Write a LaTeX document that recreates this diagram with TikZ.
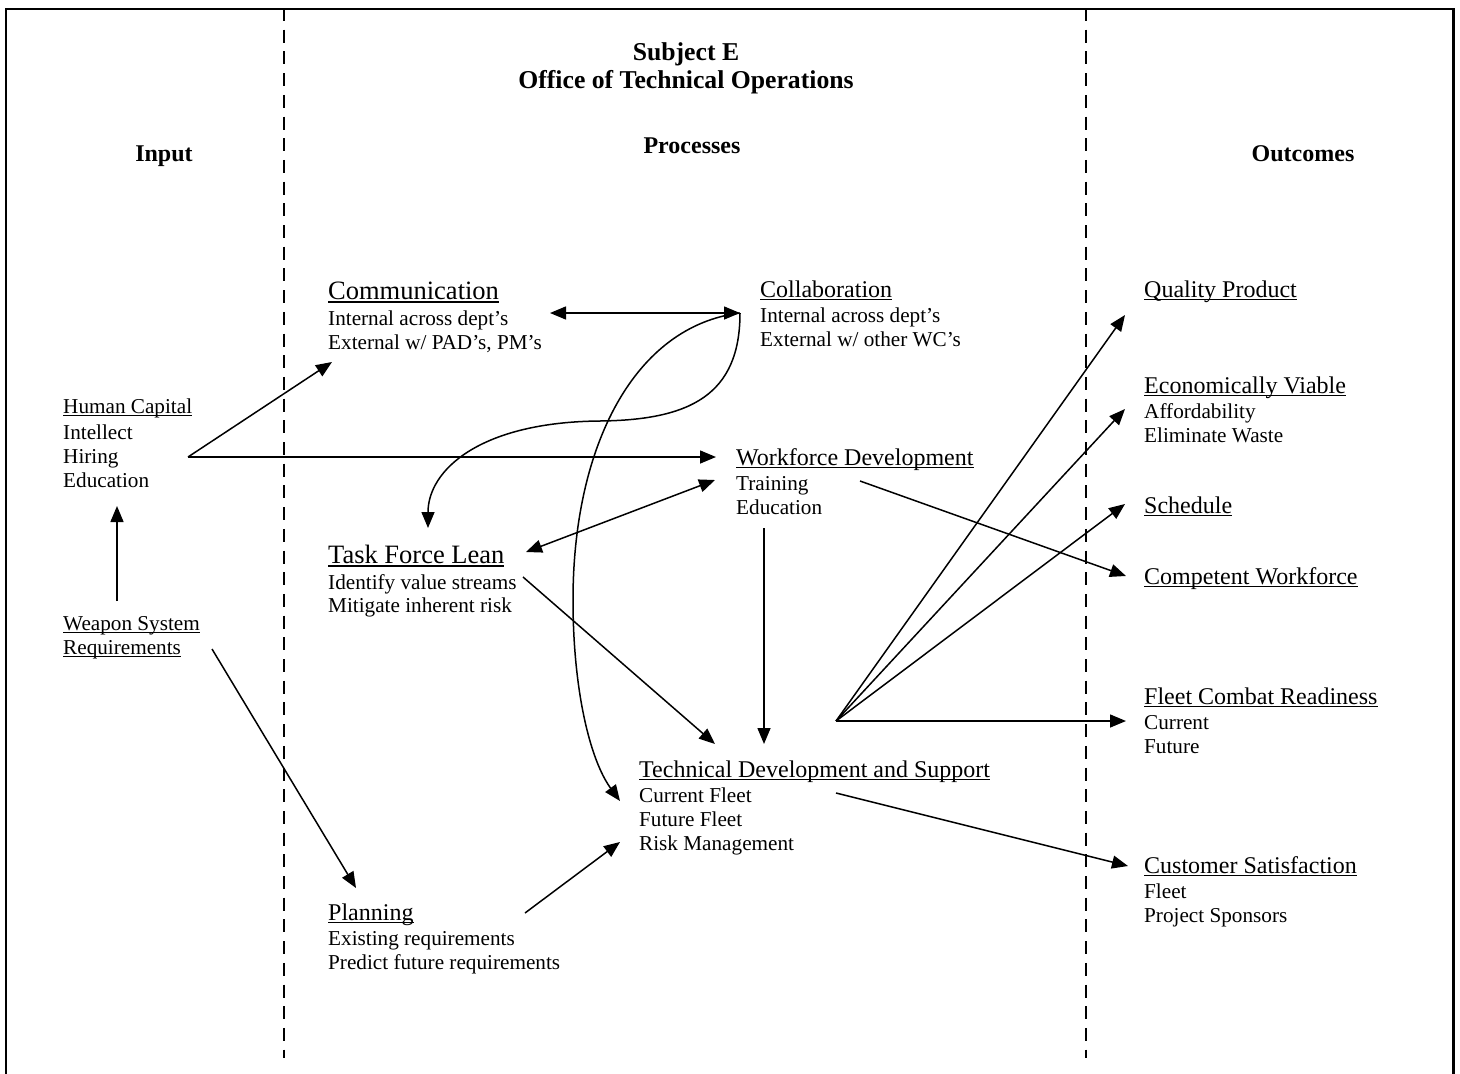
\documentclass[tikz,border=0pt]{standalone}
\usepackage{fontspec}
\setmainfont{Liberation Serif}
\usetikzlibrary{arrows.meta}
\newcommand\myul[1]{\setbox0\hbox{#1}\rlap{\rule[-0.14em]{\wd0}{0.065em}}\box0}
\tikzset{
  txt/.style={anchor=base west, inner sep=0pt, font=\fontsize{21.2pt}{24pt}\selectfont},
  headtxt/.style={txt, font=\fontsize{24pt}{28pt}\selectfont},
  bigtxt/.style={txt, font=\fontsize{26.5pt}{30pt}\selectfont},
  coltitle/.style={anchor=base, inner sep=0pt, font=\bfseries\fontsize{24pt}{28pt}\selectfont},
  maintitle/.style={anchor=base, inner sep=0pt, font=\bfseries\fontsize{25.7pt}{30pt}\selectfont},
  arr/.style={line width=1.5pt, -{Triangle[length=16pt,width=13pt]}},
  darr/.style={line width=1.5pt, {Triangle[length=16pt,width=13pt]}-{Triangle[length=16pt,width=13pt]}},
  frame/.style={line width=2.4pt},
  divider/.style={line width=2pt, dash pattern=on 13pt off 8.7pt}
}
\begin{document}
\begin{tikzpicture}[x=1pt,y=-1pt]
\useasboundingbox (0,0) rectangle (1460,1074);
% frame
\draw[frame] (6,1074) -- (6,9) -- (1453.5,9) -- (1453.5,1074);
% dividers
\draw[divider] (284,8) -- (284,1058);
\draw[divider] (1086,8) -- (1086,1058);

% titles
\node[maintitle] (subj) at (686,60) {Subject E};
\node[maintitle] (office) at (686,88) {Office of Technical Operations};
\node[coltitle] (input) at (164,161) {Input};
\node[coltitle] (proc) at (692,153) {Processes};
\node[coltitle] (outc) at (1303,161) {Outcomes};

% input column
\node[txt] (hc) at (63,413) {\myul{Human Capital}};
\node[txt] (hc1) at (63,439) {Intellect};
\node[txt] (hc2) at (63,463) {Hiring};
\node[txt] (hc3) at (63,487) {Education};
\node[txt] (ws) at (63,630) {\myul{Weapon System}};
\node[txt] (ws1) at (63,654) {\myul{Requirements}};

% processes
\node[bigtxt] (comm) at (328,299) {\myul{Communication}};
\node[txt] (comm1) at (328,325) {Internal across dept's};
\node[txt] (comm2) at (328,349) {External w/ PAD's, PM's};
\node[headtxt] (coll) at (760,297) {\myul{Collaboration}};
\node[txt] (coll1) at (760,322) {Internal across dept's};
\node[txt] (coll2) at (760,346) {External w/ other WC's};
\node[headtxt] (wf) at (736,465) {\myul{Workforce Development}};
\node[txt] (wf1) at (736,490) {Training};
\node[txt] (wf2) at (736,514) {Education};
\node[bigtxt] (tfl) at (328,563) {\myul{Task Force Lean}};
\node[txt] (tfl1) at (328,589) {Identify value streams};
\node[txt] (tfl2) at (328,612) {Mitigate inherent risk};
\node[headtxt] (td) at (639,777) {\myul{Technical Development and Support}};
\node[txt] (td1) at (639,802) {Current Fleet};
\node[txt] (td2) at (639,826) {Future Fleet};
\node[txt] (td3) at (639,850) {Risk Management};
\node[headtxt] (pl) at (328,920) {\myul{Planning}};
\node[txt] (pl1) at (328,945) {Existing requirements};
\node[txt] (pl2) at (328,969) {Predict future requirements};

% outcomes
\node[headtxt] (qp) at (1144,297) {\myul{Quality Product}};
\node[headtxt] (ev) at (1144,393) {\myul{Economically Viable}};
\node[txt] (ev1) at (1144,418) {Affordability};
\node[txt] (ev2) at (1144,442) {Eliminate Waste};
\node[headtxt] (sch) at (1144,513) {\myul{Schedule}};
\node[headtxt] (cw) at (1144,584) {\myul{Competent Workforce}};
\node[headtxt] (fcr) at (1144,704) {\myul{Fleet Combat Readiness}};
\node[txt] (fcr1) at (1144,729) {Current};
\node[txt] (fcr2) at (1144,753) {Future};
\node[headtxt] (cs) at (1144,873) {\myul{Customer Satisfaction}};
\node[txt] (cs1) at (1144,898) {Fleet};
\node[txt] (cs2) at (1144,922) {Project Sponsors};

% connector end points
\coordinate (hcR) at (188,457);
\coordinate (commIn) at (332,362);
\coordinate (wfIn) at (716,457);
\coordinate (wsTop) at (117,601);
\coordinate (hcBot) at (117,506);
\coordinate (commR) at (550,313);
\coordinate (collL) at (740,313);
\coordinate (tflTip) at (428,528);
\coordinate (tdCurve) at (620,801);
\coordinate (tflR) at (526,552);
\coordinate (wfL) at (715,480);
\coordinate (tflOut) at (523,577);
\coordinate (tdIn1) at (715,744);
\coordinate (wfBot) at (764,528);
\coordinate (tdIn2) at (764,744);
\coordinate (wfOut) at (860,481);
\coordinate (cwIn) at (1126,576);
\coordinate (hub) at (836,721);
\coordinate (qpIn) at (1125,315);
\coordinate (evIn) at (1125,409);
\coordinate (schIn) at (1125,504);
\coordinate (fcrIn) at (1126,721);
\coordinate (tdOut) at (836,793);
\coordinate (csIn) at (1128,866);
\coordinate (wsOut) at (212,649);
\coordinate (plIn) at (356,888);
\coordinate (plOut) at (525,913);
\coordinate (tdIn3) at (620,842);

% connectors
\draw[arr] (hcR) -- (commIn);
\draw[arr] (hcR) -- (wfIn);
\draw[arr] (wsTop) -- (hcBot);
\draw[darr] (commR) -- (collL);
\draw[arr] (collL) .. controls (740,395) and (690,420) .. (600,421)
                 .. controls (480,422) and (428,470) .. (tflTip);
\draw[arr] (collL) .. controls (635,326) and (573,445) .. (573,600)
                 .. controls (573,690) and (590,760) .. (tdCurve);
\draw[darr] (tflR) -- (wfL);
\draw[arr] (tflOut) -- (tdIn1);
\draw[arr] (wfBot) -- (tdIn2);
\draw[arr] (wfOut) -- (cwIn);
\draw[arr] (hub) -- (qpIn);
\draw[arr] (hub) -- (evIn);
\draw[arr] (hub) -- (schIn);
\draw[arr] (hub) -- (fcrIn);
\draw[arr] (tdOut) -- (csIn);
\draw[arr] (wsOut) -- (plIn);
\draw[arr] (plOut) -- (tdIn3);
\end{tikzpicture}
\end{document}
